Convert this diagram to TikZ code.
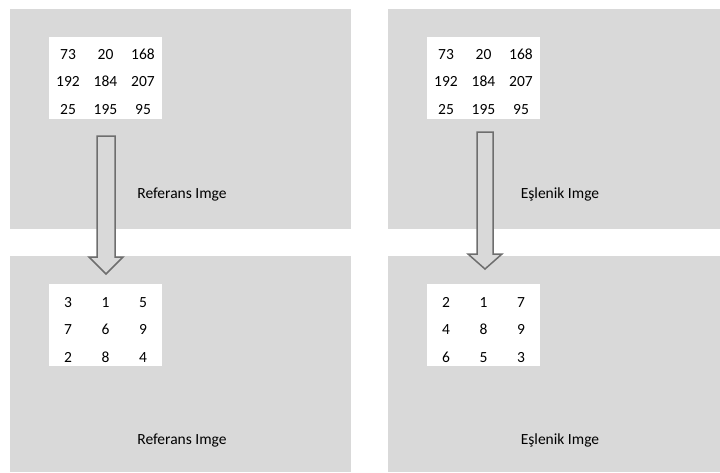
\documentclass[tikz,border=0pt]{standalone}
\usepackage{fontspec}
\setmainfont{Carlito}
\definecolor{panelgray}{HTML}{D9D9D9}
\definecolor{arrowedge}{HTML}{6E6E6E}
\begin{document}
\begin{tikzpicture}[x=1pt,y=-1pt,
  panel/.style={fill=panelgray,draw=none},
  cellbox/.style={fill=white,draw=none},
  num/.style={font=\fontsize{15.5}{18}\selectfont,inner sep=0pt,anchor=base},
  caption/.style={font=\fontsize{15.5}{18}\selectfont,inner sep=0pt,anchor=base},
  blockarrow/.style={fill=panelgray,draw=arrowedge,line width=1.5pt,line join=miter}]
\useasboundingbox (0,0) rectangle (720,472);

% four gray panels
\fill[panel] (10,9) rectangle (351,229);
\fill[panel] (388,9) rectangle (720,229);
\fill[panel] (10,256) rectangle (351,472);
\fill[panel] (388,256) rectangle (720,472);

% white matrix backgrounds
\fill[cellbox] (49,37) rectangle (162,119);
\fill[cellbox] (427,37) rectangle (540,119);
\fill[cellbox] (49,284) rectangle (162,366);
\fill[cellbox] (427,284) rectangle (540,366);

% top-left values
\foreach \v [count=\i from 0] in {73,20,168,192,184,207,25,195,95}{
  \pgfmathtruncatemacro\r{int(\i/3)}
  \pgfmathtruncatemacro\c{mod(\i,3)}
  \node[num] (tl\i) at ({68+37.5*\c},{59+27.5*\r}) {\v};
}
% top-right values
\foreach \v [count=\i from 0] in {73,20,168,192,184,207,25,195,95}{
  \pgfmathtruncatemacro\r{int(\i/3)}
  \pgfmathtruncatemacro\c{mod(\i,3)}
  \node[num] (tr\i) at ({446+37.5*\c},{59+27.5*\r}) {\v};
}
% bottom-left ranks
\foreach \v [count=\i from 0] in {3,1,5,7,6,9,2,8,4}{
  \pgfmathtruncatemacro\r{int(\i/3)}
  \pgfmathtruncatemacro\c{mod(\i,3)}
  \node[num] (bl\i) at ({68+37.5*\c},{307+27.5*\r}) {\v};
}
% bottom-right ranks
\foreach \v [count=\i from 0] in {2,1,7,4,8,9,6,5,3}{
  \pgfmathtruncatemacro\r{int(\i/3)}
  \pgfmathtruncatemacro\c{mod(\i,3)}
  \node[num] (br\i) at ({446+37.5*\c},{307+27.5*\r}) {\v};
}

% captions
\node[caption] (capTL) at (182,198) {Referans Imge};
\node[caption] (capTR) at (560,198) {Eşlenik Imge};
\node[caption] (capBL) at (182,444) {Referans Imge};
\node[caption] (capBR) at (560,444) {Eşlenik Imge};

% block arrows
\draw[blockarrow] (97,136) -- (115,136) -- (115,257) -- (123,257) -- (106,274)
  -- (89,257) -- (97,257) -- cycle;
\draw[blockarrow] (477,132) -- (493,132) -- (493,254) -- (502,254) -- (485,269)
  -- (468,254) -- (477,254) -- cycle;
\end{tikzpicture}
\end{document}
